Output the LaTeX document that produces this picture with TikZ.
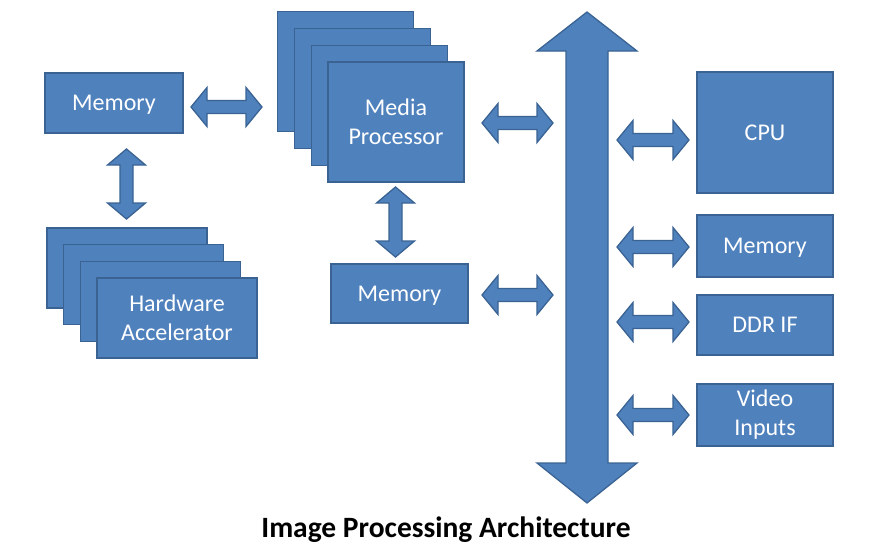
\documentclass[tikz,border=0pt]{standalone}
\usepackage{fontspec}
\setmainfont{Carlito}
\usetikzlibrary{calc,positioning}
\definecolor{boxfill}{HTML}{4F81BD}
\definecolor{boxline}{HTML}{3A6393}
\tikzset{
  blk/.style={draw=boxline, fill=boxfill, line width=1.3pt, inner sep=0pt, text=white,
    font=\fontsize{24}{29}\selectfont, align=center},
  oneline/.style={text depth=0pt},
  blockarrow/.style={draw=boxline, fill=boxfill, line width=1.3pt, line join=miter},
  hbidir/.style={blockarrow, to path={let \p1=(\tikztostart), \p2=(\tikztotarget) in
    (\x1,\y1) -- (\x1+16pt,\y1+19.5pt) -- (\x1+16pt,\y1+6.5pt) -- (\x2-16pt,\y1+6.5pt)
    -- (\x2-16pt,\y1+19.5pt) -- (\x2,\y1) -- (\x2-16pt,\y1-19.5pt) -- (\x2-16pt,\y1-6.5pt)
    -- (\x1+16pt,\y1-6.5pt) -- (\x1+16pt,\y1-19.5pt) -- cycle}},
  vbidir/.style={blockarrow, to path={let \p1=(\tikztostart), \p2=(\tikztotarget) in
    (\x1,\y1) -- (\x1+19pt,\y1-16pt) -- (\x1+6.5pt,\y1-16pt) -- (\x1+6.5pt,\y2+16pt)
    -- (\x1+19pt,\y2+16pt) -- (\x1,\y2) -- (\x1-19pt,\y2+16pt) -- (\x1-6.5pt,\y2+16pt)
    -- (\x1-6.5pt,\y1-16pt) -- (\x1-19pt,\y1-16pt) -- cycle}},
  busarrow/.style={blockarrow, to path={let \p1=(\tikztostart), \p2=(\tikztotarget) in
    (\x1,\y1) -- (\x1+50pt,\y1-39pt) -- (\x1+21pt,\y1-39pt) -- (\x1+21pt,\y2+40pt)
    -- (\x1+50pt,\y2+40pt) -- (\x1,\y2) -- (\x1-50pt,\y2+40pt) -- (\x1-21pt,\y2+40pt)
    -- (\x1-21pt,\y1-39pt) -- (\x1-50pt,\y1-39pt) -- cycle}},
}
\begin{document}
\begin{tikzpicture}[x=1pt,y=-1pt]
\useasboundingbox (0,0) rectangle (877,557);
% Left memory
\node[blk, oneline, minimum width=138pt, minimum height=60pt] (mem1) at (114,103) {Memory};
% Media processor stack
\node[blk, minimum width=136pt, minimum height=120pt] (mp1) at (345.6,71.6) {};
\node[blk, minimum width=136pt, minimum height=120pt] (mp2) at (362.4,88.4) {};
\node[blk, minimum width=136pt, minimum height=120pt] (mp3) at (379.2,105.2) {};
\node[blk, minimum width=136pt, minimum height=120pt] (mp) at (396,122) {Media\\Processor};
% Hardware accelerator stack
\node[blk, minimum width=160pt, minimum height=80pt] (ha1) at (126.9,267.9) {};
\node[blk, minimum width=160pt, minimum height=80pt] (ha2) at (143.6,284.6) {};
\node[blk, minimum width=160pt, minimum height=80pt] (ha3) at (160.3,301.3) {};
\node[blk, minimum width=160pt, minimum height=80pt] (ha) at (177,318) {Hardware\\Accelerator};
% Middle memory
\node[blk, oneline, minimum width=137pt, minimum height=59pt] (mem2) at (399.5,293.5) {Memory};
% Right column
\node[blk, oneline, minimum width=136pt, minimum height=121pt] (cpu) at (765,132.5) {CPU};
\node[blk, oneline, minimum width=136pt, minimum height=62pt] (mem3) at (765,246) {Memory};
\node[blk, oneline, minimum width=136pt, minimum height=60pt] (ddr) at (765,325) {DDR IF};
\node[blk, minimum width=136pt, minimum height=62pt] (vid) at (765,415) {Video\\Inputs};
% Title
\node[font=\bfseries\fontsize{29.5}{34}\selectfont] (title) at (446,530) {Image Processing Architecture};
% Arrow end coordinates
\coordinate (a1s) at (191,107); \coordinate (a1e) at (262,107);
\coordinate (a2s) at (126.5,149); \coordinate (a2e) at (126.5,219);
\coordinate (a3s) at (395.5,187); \coordinate (a3e) at (395.5,257);
\coordinate (bust) at (587,12); \coordinate (busb) at (587,503);
\coordinate (a4s) at (482,123); \coordinate (a4e) at (553,123);
\coordinate (a5s) at (482,295); \coordinate (a5e) at (553,295);
\coordinate (a6s) at (617,140); \coordinate (a6e) at (689,140);
\coordinate (a7s) at (617,247); \coordinate (a7e) at (689,247);
\coordinate (a8s) at (617,322); \coordinate (a8e) at (689,322);
\coordinate (a9s) at (617,415); \coordinate (a9e) at (689,415);
% Arrows
\draw[hbidir] (a1s) to (a1e);
\draw[vbidir] (a2s) to (a2e);
\draw[vbidir] (a3s) to (a3e);
\draw[busarrow] (bust) to (busb);
\draw[hbidir] (a4s) to (a4e);
\draw[hbidir] (a5s) to (a5e);
\draw[hbidir] (a6s) to (a6e);
\draw[hbidir] (a7s) to (a7e);
\draw[hbidir] (a8s) to (a8e);
\draw[hbidir] (a9s) to (a9e);
\end{tikzpicture}
\end{document}
